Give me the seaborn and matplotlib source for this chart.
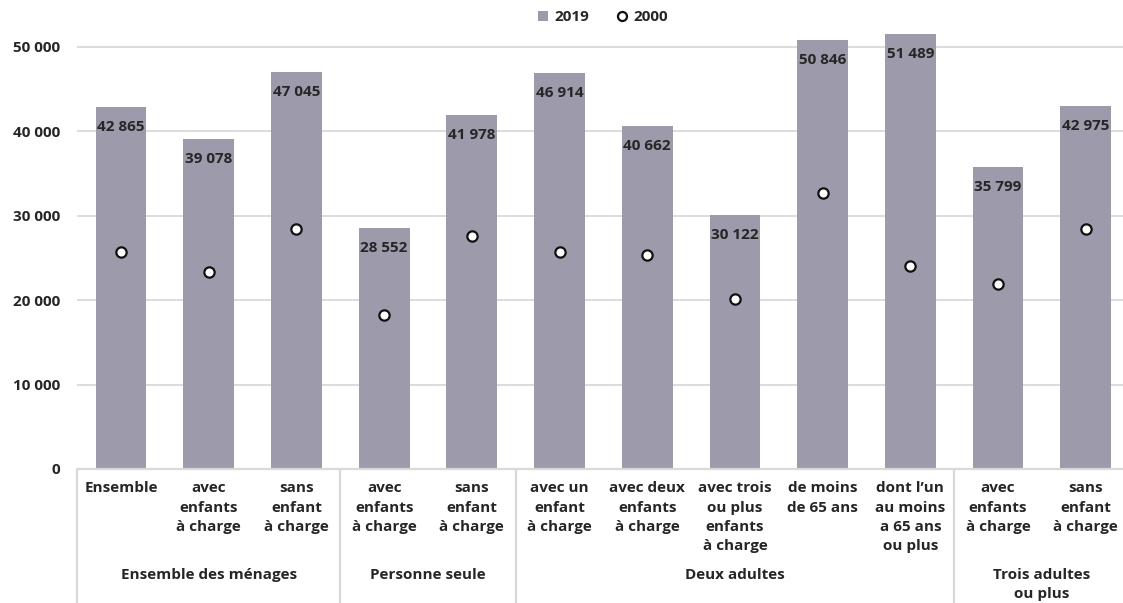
import matplotlib
matplotlib.use("Agg")
import matplotlib.pyplot as plt
import matplotlib.transforms as mtransforms
from matplotlib.lines import Line2D
import seaborn as sns
import pandas as pd

# ---- data ----
categories = [
    "Ensemble", "avec\nenfants\nà charge", "sans\nenfant\nà charge",
    "avec\nenfants\nà charge", "sans\nenfant\nà charge",
    "avec un\nenfant\nà charge", "avec deux\nenfants\nà charge",
    "avec trois\nou plus\nenfants\nà charge", "de moins\nde 65 ans",
    "dont l’un\nau moins\na 65 ans\nou plus",
    "avec\nenfants\nà charge", "sans\nenfant\nà charge",
]
values_2019 = [42865, 39078, 47045, 28552, 41978, 46914, 40662, 30122, 50846, 51489, 35799, 42975]
values_2000 = [25700, 23300, 28400, 18200, 27600, 25700, 25400, 20100, 32700, 24100, 21900, 28400]
groups = ["Ensemble des ménages", "Personne seule", "Deux adultes", "Trois adultes\nou plus"]
group_sizes = [3, 2, 5, 2]
yticks = [0, 10000, 20000, 30000, 40000, 50000]

BAR = "#9d9aab"
TXT = "#262626"
GRID = "#d9d9d9"
WEIGHT = "bold"
FS = 11.0

sns.set_theme(style="white")
plt.rcParams["font.family"] = ["Open Sans", "DejaVu Sans"]
plt.rcParams["font.weight"] = WEIGHT

df = pd.DataFrame({"idx": list(range(len(categories))), "v2019": values_2019, "v2000": values_2000})

fig = plt.figure(figsize=(11.23, 6.03), dpi=100)
W, H = 1123, 603
x0, x1 = 77.2, 1129.6
y0, y1 = 469.0, 4.8
ax = fig.add_axes([x0 / W, (H - y0) / H, (x1 - x0) / W, (y0 - y1) / H])

sns.barplot(data=df, x="idx", y="v2019", color=BAR, width=0.58, ax=ax,
            saturation=1, linewidth=0, label="2019", zorder=2)
sns.scatterplot(data=df, x="idx", y="v2000", ax=ax, s=55, color="white",
                edgecolor="#111111", linewidth=1.6, zorder=4, label="2000")

ax.set_xlim(-0.5, len(categories) - 0.5)
ax.set_ylim(0, 55000)
ax.set_xlabel("")
ax.set_ylabel("")

ax.set_yticks(yticks)
ax.set_yticklabels([f"{v:,}".replace(",", " ") for v in yticks], fontsize=FS,
                   color=TXT, fontweight=WEIGHT)
ax.set_xticks(range(len(categories)))
ax.set_xticklabels(categories, fontsize=FS, color=TXT, fontweight=WEIGHT,
                   linespacing=1.47, va="top")
ax.tick_params(axis="y", length=0, pad=12)
ax.tick_params(axis="x", length=0, pad=9)

ax.yaxis.grid(True, color=GRID, linewidth=1.3)
ax.set_axisbelow(True)
for s in ["top", "right", "left"]:
    ax.spines[s].set_visible(False)
ax.spines["bottom"].set_color(GRID)
ax.spines["bottom"].set_linewidth(1.6)

# bar value labels
for i, v in enumerate(values_2019):
    ax.annotate(f"{v:,}".replace(",", " "), xy=(i, v), xytext=(0, -20),
                textcoords="offset pixels", ha="center", va="center",
                fontsize=FS, color=TXT, fontweight=WEIGHT, zorder=5)

# group separators and labels
trans = mtransforms.blended_transform_factory(ax.transData, ax.transAxes)
ax_h = y0 - y1
ybot = -(H - y0) / ax_h
start = 0
bounds = [-0.5]
for g, n in zip(groups, group_sizes):
    center = start + (n - 1) / 2
    ax.annotate(g, xy=(center, 0), xycoords=trans, xytext=(0, -(575 - y0) + 7),
                textcoords="offset pixels", ha="center", va="top", fontsize=FS,
                color=TXT, fontweight=WEIGHT, linespacing=1.42,
                annotation_clip=False)
    start += n
    bounds.append(start - 0.5)
for b in bounds:
    ax.plot([b, b], [0, ybot], transform=trans, color=GRID, linewidth=1.6,
            clip_on=False, zorder=1)

# legend
handles = [
    Line2D([], [], marker="s", linestyle="none", markersize=7, color=BAR, markeredgewidth=0),
    Line2D([], [], marker="o", linestyle="none", markersize=6.5, markerfacecolor="white",
           markeredgecolor="#111111", markeredgewidth=1.6),
]
leg = ax.legend(handles, ["2019", "2000"], loc="center", ncol=2, frameon=False,
                bbox_to_anchor=(603 / W, 1 - 17 / H), bbox_transform=fig.transFigure,
                handlelength=0.7, handletextpad=0.4, columnspacing=1.8,
                prop={"size": FS, "weight": WEIGHT})
for t in leg.get_texts():
    t.set_color(TXT)

fig.savefig("out.png", dpi=100)
